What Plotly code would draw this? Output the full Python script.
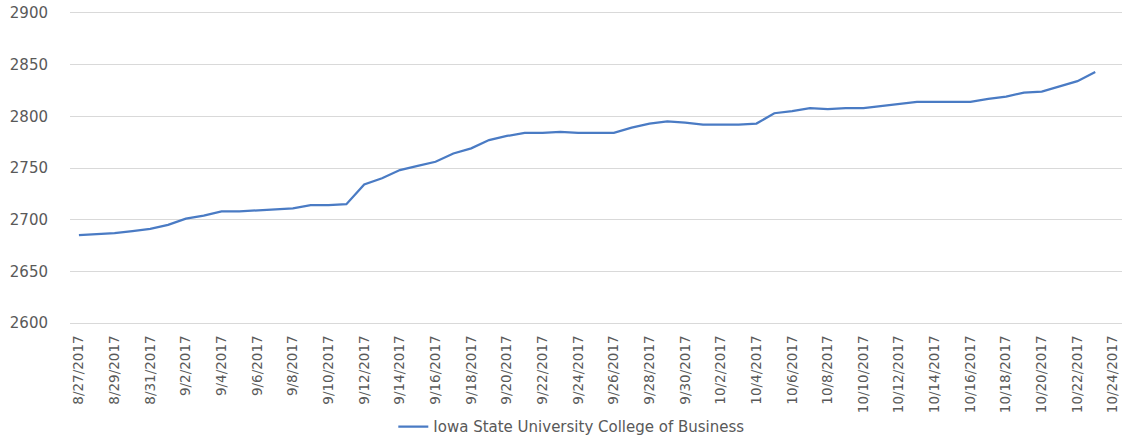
import datetime as dt
import plotly.graph_objects as go

# Daily series, 8/27/2017 through 10/23/2017
start_date = "2017-08-27"
values = [
    2685, 2686, 2687, 2689, 2691, 2695, 2701, 2704, 2708, 2708,
    2709, 2710, 2711, 2714, 2714, 2715, 2734, 2740, 2748, 2752,
    2756, 2764, 2769, 2777, 2781, 2784, 2784, 2785, 2784, 2784,
    2784, 2789, 2793, 2795, 2794, 2792, 2792, 2792, 2793, 2803,
    2805, 2808, 2807, 2808, 2808, 2810, 2812, 2814, 2814, 2814,
    2814, 2817, 2819, 2823, 2824, 2829, 2834, 2843,
]
series_name = "Iowa State University College of Business"
y_ticks = [2600, 2650, 2700, 2750, 2800, 2850, 2900]

d0 = dt.date.fromisoformat(start_date)
dates = [d0 + dt.timedelta(days=i) for i in range(len(values))]
tick_dates = [d0 + dt.timedelta(days=2 * i) for i in range(30)]
tick_text = [f"{d.month}/{d.day}/{d.year}" for d in tick_dates]

fig = go.Figure(
    go.Scatter(
        x=dates,
        y=values,
        mode="lines",
        name=series_name,
        line=dict(color="#4A7BC4", width=2.25),
    )
)

grid = "#D9D9D9"

fig.update_layout(
    width=1122,
    height=440,
    margin=dict(l=70, r=0, t=13, b=117, autoexpand=False),
    paper_bgcolor="white",
    plot_bgcolor="white",
    showlegend=True,
    legend=dict(
        orientation="h",
        x=0.477,
        xanchor="center",
        yref="container",
        y=0.03,
        yanchor="middle",
        font=dict(family="DejaVu Sans", size=15, color="#595959"),
    ),
    xaxis=dict(
        type="date",
        range=[
            dt.datetime(2017, 8, 26, 12),
            dt.datetime(2017, 10, 24, 12),
        ],
        tickmode="array",
        tickvals=tick_dates,
        ticktext=tick_text,
        tickangle=-90,
        tickfont=dict(family="DejaVu Sans", size=13.5, color="#595959"),
        showgrid=False,
        showline=True,
        linecolor=grid,
        linewidth=1,
        mirror=True,
        ticks="outside",
        ticklen=6,
        tickcolor="rgba(0,0,0,0)",
        zeroline=False,
    ),
    yaxis=dict(
        range=[2600, 2900],
        tickmode="array",
        tickvals=y_ticks,
        tickfont=dict(family="DejaVu Sans", size=15, color="#595959"),
        showgrid=True,
        gridcolor=grid,
        gridwidth=1,
        zeroline=False,
        showline=False,
        ticks="outside",
        ticklen=18,
        tickcolor="rgba(0,0,0,0)",
    ),
)

fig.write_html("out.html")
